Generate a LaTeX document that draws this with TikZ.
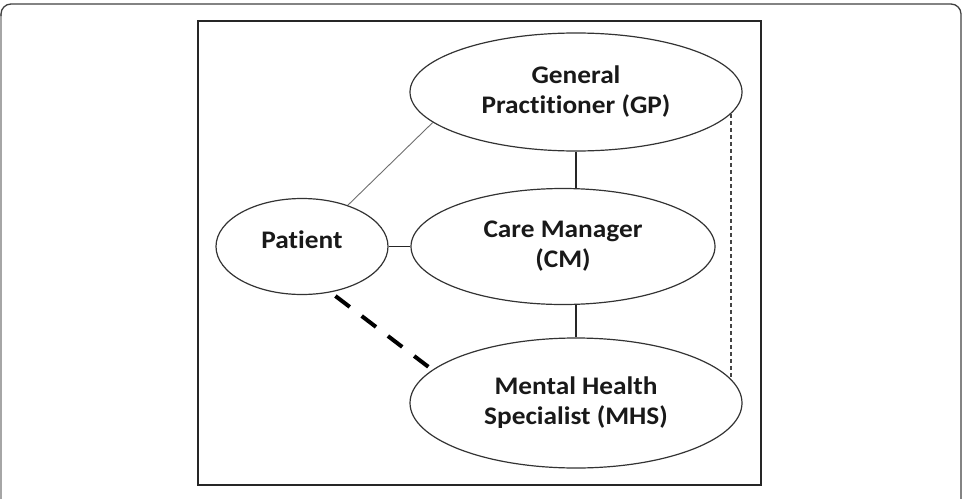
\documentclass[tikz,border=0pt]{standalone}
\usepackage{fontspec}
\setmainfont{Carlito}[FakeStretch=1.08,Ligatures=NoCommon,RawFeature={-liga;-clig;-dlig}]
\usetikzlibrary{shapes.geometric}
\definecolor{edgec}{HTML}{333333}
\definecolor{thinc}{HTML}{6E6E6E}
\definecolor{dotc}{HTML}{444444}
\begin{document}
\begin{tikzpicture}[x=1pt,y=-1pt,
  bub/.style={ellipse,draw=edgec,line width=1.2pt,inner sep=0pt,align=center,
    font=\fontsize{25.3}{30}\selectfont\bfseries,text=black!90},
  solidline/.style={draw=black!85,line width=1.2pt},
  thinline/.style={draw=thinc,line width=0.9pt},
  bigdash/.style={draw=black,line width=4pt,dash pattern=on 18pt off 15pt},
  dotline/.style={draw=dotc,line width=1.2pt,dash pattern=on 4pt off 3pt}]
\useasboundingbox (0,0) rectangle (963,498);
% outer card frame
\draw[black!35,line width=1.2pt] (1,510) -- (1,14);
\draw[black!75,line width=1.3pt,rounded corners=10pt] (1,16) -- (1,4) -- (961,4) -- (961,510);
% inner frame
\draw[black!85,line width=1.6pt] (198,21) rectangle (761,485);
% nodes
\node[bub,minimum width=332pt,minimum height=118pt] (GP) at (576,92) {General\\Practitioner (GP)};
\node[bub,minimum width=304pt,minimum height=116pt] (CM) at (563,246.5) {Care Manager\\(CM)};
\node[bub,minimum width=332pt,minimum height=130pt] (MHS) at (576,403) {Mental Health\\Specialist (MHS)};
\node[bub,minimum width=172pt,minimum height=96pt] (P) at (302,246.5) {\raisebox{13pt}{Patient}};
% connectors
\draw[thinline] (GP.192) -- (P.42);
\draw[solidline] (GP.south) -- (GP.south |- CM.north);
\draw[solidline] (P.east) -- (CM.west);
\draw[solidline] (MHS.north |- CM.south) -- (MHS.north);
\draw[bigdash,shorten <=6pt,shorten >=5pt] (P.-58) -- (MHS.167);
\draw[dotline] (GP.-8.5) -- (GP.-8.5 |- MHS.9);
\end{tikzpicture}
\end{document}
